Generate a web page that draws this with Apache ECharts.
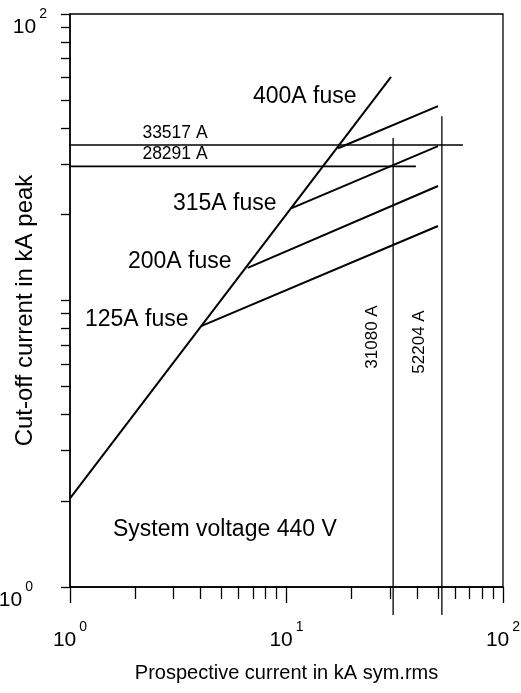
<!DOCTYPE html>
<html><head><meta charset="utf-8">
<script src="https://cdn.jsdelivr.net/npm/echarts@6/dist/echarts.min.js"></script>
<style>html,body{margin:0;padding:0;background:#fff}#c{width:521px;height:693px}</style>
</head><body><div id="c"></div>
<script>
// ---- data ----
const xMajorTicks = [1, 10, 100];
const xMinorTicks = [2, 3, 4, 5, 6, 7, 8, 9, 20, 30, 40, 50, 60, 70, 80, 90];
const yMajorTicks = [1, 10, 100];
const yMinorTicks = [2, 3, 4, 5, 6, 7, 8, 9, 20, 30, 40, 50, 60, 70, 80, 90];
const baseCurve = [[1, 2.04], [30.4, 60.3]];
const fuseNames = ['125A fuse', '200A fuse', '315A fuse', '400A fuse'];
const fuseKnees = [[4.06, 8.15], [6.62, 13.0], [10.57, 21.0], [17.3, 34.0]];
const fuseEnds = [[50.1, 18.2], [50.1, 25.1], [50.1, 34.6], [50.1, 47.7]];
const hLineLabels = ['33517 A', '28291 A'];
const hLineY = [34.9, 29.4];
const hLineX = [[0.79, 65.3], [0.79, 39.6]];
const vLineLabels = ['31080 A', '52204 A'];
const vLineX = [31.08, 52.2];
const vLineY = [[0.798, 36.9], [0.798, 44.0]];
const noteText = 'System voltage 440 V';
const xTitle = 'Prospective current in kA sym.rms';
const yTitle = 'Cut-off current in kA peak';

const FONT = 'Liberation Sans, Arial, Helvetica, sans-serif';
const chart = echarts.init(document.getElementById('c'), null, {renderer: 'canvas'});

function expLabel(v, axis) {
  const e = Math.round(Math.log10(v));
  if (axis === 'y' && e === 1) return '';
  if (axis === 'y' && e === 0) return '{b|10}{t|0}';
  return '{b|10}{s|' + e + '}';
}
const richLab = {
  b: {fontSize: 21, fontFamily: FONT, color: '#000'},
  s: {fontSize: 14, fontFamily: FONT, color: '#000', padding: [0, 0, 26, 3]},
  t: {fontSize: 14, fontFamily: FONT, color: '#000', padding: [0, 14, 26, 3]}
};

const series = [];
function addLine(data, width, clip) {
  series.push({type: 'line', xAxisIndex: 0, yAxisIndex: 0, data: data, symbol: 'none',
    clip: clip, silent: true, animation: false,
    lineStyle: {color: '#000', width: width}});
}
addLine(baseCurve, 2, true);
for (let i = 0; i < fuseKnees.length; i++) addLine([fuseKnees[i], fuseEnds[i]], 2, true);
for (let i = 0; i < hLineY.length; i++) addLine([[hLineX[i][0], hLineY[i]], [hLineX[i][1], hLineY[i]]], i === 1 ? 1.8 : 1.4, false);
for (let i = 0; i < vLineX.length; i++) addLine([[vLineX[i], vLineY[i][0]], [vLineX[i], vLineY[i][1]]], 1.3, false);

const textStyle = (t, x, y, size, extra) => Object.assign({
  type: 'text', x: x, y: y, silent: true,
  style: {text: t, fontSize: size, fontFamily: FONT, fill: '#000', textAlign: 'left', textVerticalAlign: 'middle'}
}, extra || {});

const fusePos = [[85, 320], [128, 262], [173, 204], [253, 97]];
const graphics = fuseNames.map((n, i) => textStyle(n, fusePos[i][0], fusePos[i][1], 23));
graphics.push(textStyle(noteText, 113, 530, 23));
const hPos = [[175, 133], [175, 154]];
hLineLabels.forEach((n, i) => {
  const g = textStyle(n, hPos[i][0], hPos[i][1], 17.5);
  g.style.textAlign = 'center';
  graphics.push(g);
});
const vPos = [[372, 337], [419, 342]];
vLineLabels.forEach((n, i) => {
  const g = textStyle(n, vPos[i][0], vPos[i][1], 17);
  g.style.textAlign = 'center';
  g.rotation = Math.PI / 2;
  graphics.push(g);
});

const axisCommon = {type: 'log', logBase: 10, min: 1, max: 100, gridIndex: 0,
  splitLine: {show: false}, minorTick: {show: false}, minorSplitLine: {show: false}};

chart.setOption({
  animation: false,
  backgroundColor: '#fff',
  grid: {left: 70, right: 18, top: 14, bottom: 106, containLabel: false, outerBoundsMode: 'none',
    show: true, borderColor: '#000', borderWidth: 1.3},
  xAxis: [
    Object.assign({}, axisCommon, {
      position: 'bottom',
      axisLine: {show: true, lineStyle: {color: '#000', width: 1.5}},
      axisTick: {show: true, inside: false, length: 16, customValues: xMajorTicks, lineStyle: {color: '#000', width: 1.3}},
      axisLabel: {show: true, margin: 33, formatter: v => expLabel(v, 'x'), rich: richLab},
      name: xTitle, nameLocation: 'middle', nameGap: 76,
      nameTextStyle: {fontSize: 20, fontFamily: FONT, color: '#000'}
    }),
    Object.assign({}, axisCommon, {
      position: 'bottom',
      axisLine: {show: false},
      axisTick: {show: true, inside: false, length: 12, customValues: xMinorTicks, lineStyle: {color: '#000', width: 1.3}},
      axisLabel: {show: false}
    })
  ],
  yAxis: [
    Object.assign({}, axisCommon, {
      position: 'left',
      axisLine: {show: true, lineStyle: {color: '#000', width: 1.5}},
      axisTick: {show: true, inside: false, length: 9, customValues: yMajorTicks, lineStyle: {color: '#000', width: 1.3}},
      axisLabel: {show: true, margin: 23, formatter: v => expLabel(v, 'y'), rich: richLab, padding: [26, 0, 0, 0]},
      name: yTitle, nameLocation: 'middle', nameGap: 33, nameRotate: 90, nameMoveOverlap: false,
      nameTextStyle: {fontSize: 24, fontFamily: FONT, color: '#000', padding: [0, 20, 0, 0]}
    }),
    Object.assign({}, axisCommon, {
      position: 'left',
      axisLine: {show: false},
      axisTick: {show: true, inside: false, length: 9, customValues: yMinorTicks, lineStyle: {color: '#000', width: 1.3}},
      axisLabel: {show: false}
    })
  ],
  series: series,
  graphic: graphics
});
</script>
</body></html>
